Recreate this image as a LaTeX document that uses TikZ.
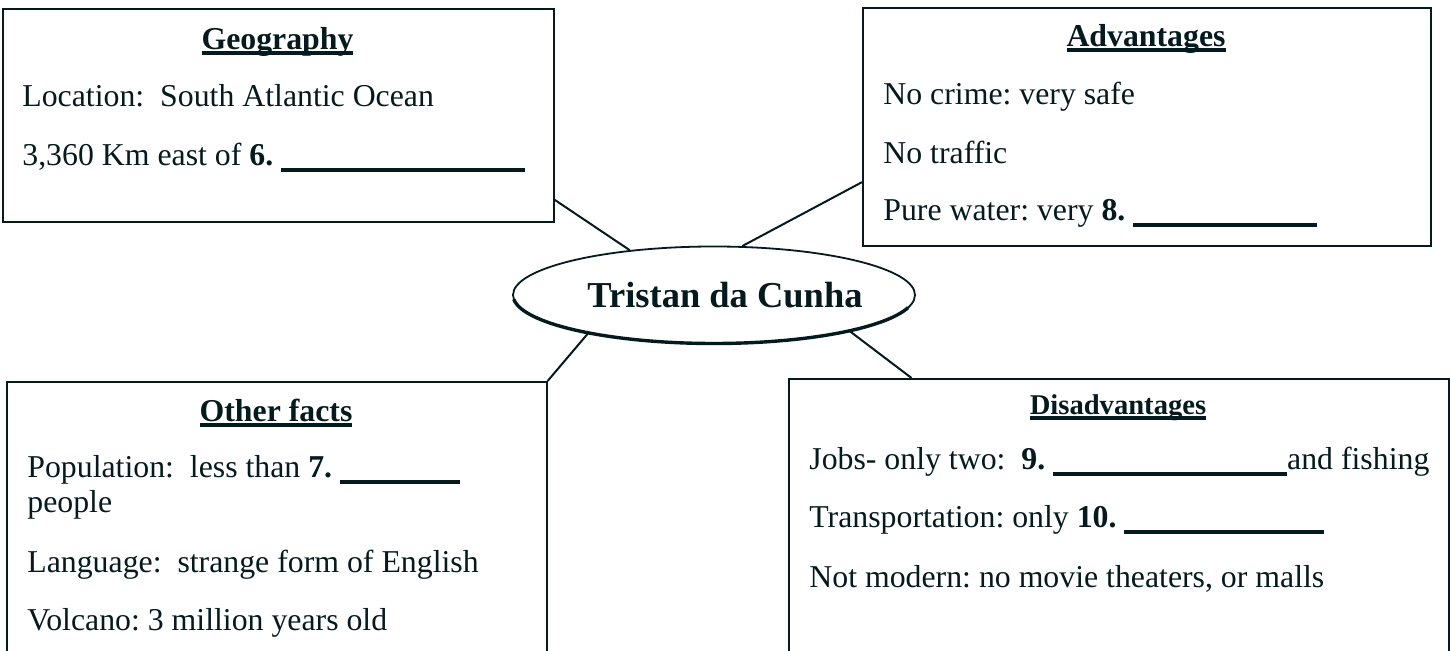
\documentclass[tikz,border=0pt]{standalone}
\usepackage{fontspec}
\setmainfont{Liberation Serif}
\usetikzlibrary{shapes.geometric}

\definecolor{ink}{RGB}{4,26,30}

% bold heading with a heavy rule under it
\newcommand{\headline}[1]{\setbox0=\hbox{\bfseries #1}\rlap{\color{ink}\vrule width\wd0 height -0.7pt depth 2.5pt}\box0}
% answer blank
\newcommand{\blankline}[1]{\rule[-3pt]{#1}{2pt}}

\tikzset{
  factbox/.style={draw=ink, line width=0.8pt, anchor=north west, inner sep=0pt},
  bodytext/.style={anchor=base west, inner sep=0pt, text=ink, font=\fontsize{15.9}{19}\selectfont},
  headtext/.style={anchor=base, inner sep=0pt, text=ink, font=\fontsize{15.9}{19}\selectfont},
  island/.style={ellipse, draw=ink, line width=0.9pt, minimum width=201pt, minimum height=48.5pt, inner sep=0pt},
  rimshade/.style={draw=ink, line width=1.7pt},
  spoke/.style={draw=ink, line width=1pt}
}

\begin{document}
\frenchspacing
\begin{tikzpicture}[x=0.5pt, y=-0.5pt]

\clip (0,0) rectangle (1450,651);

% boxes
\node[factbox, minimum width=275.5pt, minimum height=106.5pt] (geo) at (2,8) {};
\node[factbox, minimum width=284pt, minimum height=119pt] (adv) at (862,7) {};
\node[factbox, minimum width=270pt, minimum height=137.5pt] (facts) at (6,381) {};
\node[factbox, minimum width=330pt, minimum height=139pt] (disadv) at (788,378) {};

% centre
\node[island] (island) at (714,295) {};
\draw[rimshade] ([shift={(175:201 and 48.5)}]island.center) arc[start angle=175, end angle=15, x radius=201, y radius=48.5];
\node[anchor=base, inner sep=0pt, text=ink, font=\fontsize{18.25}{22}\selectfont\bfseries] (name) at (725,308) {Tristan da Cunha};

% spokes
\draw[spoke] (geo.-17.4) -- (island.152);
\draw[spoke] (adv.191.5) -- (island.60);
\draw[spoke] (facts.north east) -- (island.197.6);
\draw[spoke] (disadv.146) -- (island.-15.4);

% Geography
\node[headtext] (geohead) at (277.5,50) {\headline{Geography}};
\node[bodytext] (geo1) at (22,107) {Location:\ \ South Atlantic Ocean};
\node[bodytext] (geo2) at (22,166) {3,360 Km east of \textbf{6.} \blankline{122pt}};

% Advantages
\node[headtext] (advhead) at (1146,47) {\headline{Advantages}};
\node[bodytext] (adv1) at (883,105) {No crime: very safe};
\node[bodytext] (adv2) at (883,164) {No traffic};
\node[bodytext] (adv3) at (883,221) {Pure water: very \textbf{8.} \blankline{92pt}};

% Other facts
\node[headtext] (factshead) at (276,422) {\headline{Other facts}};
\node[bodytext] (facts1) at (27,478) {Population:\ \ less than \textbf{7.} \blankline{60pt}};
\node[bodytext] (facts2) at (27,513) {people};
\node[bodytext] (facts3) at (27,573) {Language:\ \ strange form of English};
\node[bodytext] (facts4) at (27,630) {Volcano: 3 million years old};

% Disadvantages
\node[headtext, font=\fontsize{14.3}{17}\selectfont] (disadvhead) at (1118,415) {\headline{Disadvantages}};
\node[bodytext] (disadv1) at (809,470) {Jobs- only two:\ \ \textbf{9.} \blankline{117pt}and fishing};
\node[bodytext] (disadv2) at (809,528) {Transportation: only \textbf{10.} \blankline{100pt}};
\node[bodytext] (disadv3) at (809,587) {Not modern: no movie theaters, or malls};

\end{tikzpicture}
\end{document}
